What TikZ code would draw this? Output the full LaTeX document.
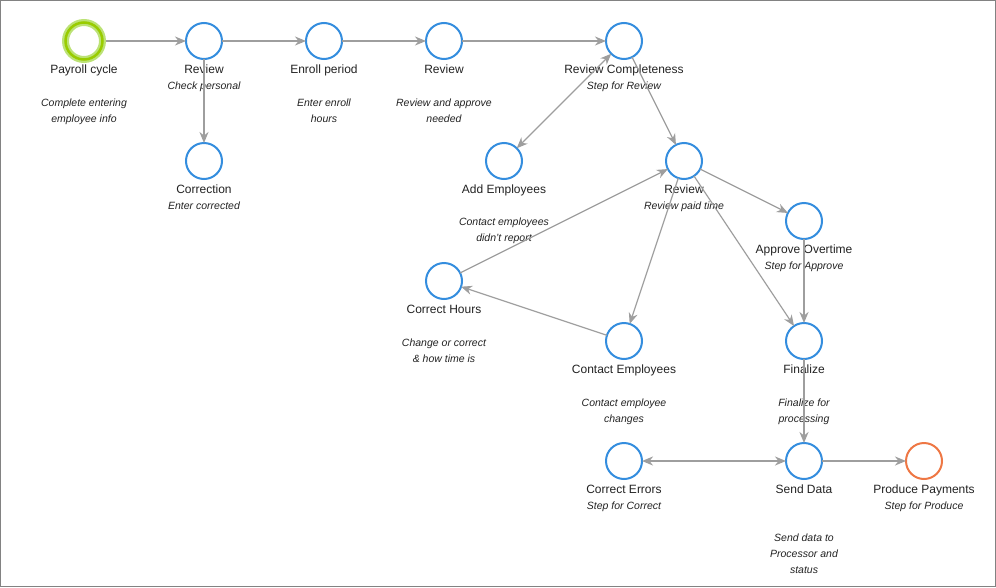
\documentclass[tikz,border=0pt]{standalone}
\usepackage{fontspec}
\setmainfont{Liberation Sans}
\usetikzlibrary{arrows.meta}
\definecolor{stepblue}{RGB}{52,141,222}
\definecolor{startgreen}{RGB}{153,204,0}
\definecolor{halogreen}{RGB}{188,226,118}
\definecolor{endorange}{RGB}{238,119,68}
\definecolor{linegray}{RGB}{158,158,158}
\definecolor{textgray}{RGB}{34,34,34}
\definecolor{framegray}{RGB}{130,130,130}
\tikzstyle{stepnode}=[circle,draw=stepblue,line width=2pt,minimum size=36pt,inner sep=0pt,outer sep=0pt]
\tikzstyle{startnode}=[stepnode,draw=startgreen,line width=2.5pt,minimum size=37pt,outer sep=3.5pt,preaction={draw=halogreen,line width=7pt}]
\tikzstyle{endnode}=[stepnode,draw=endorange]
\tikzstyle{title}=[anchor=base,inner sep=0pt,text=textgray,font=\fontsize{12}{14}\selectfont]
\tikzstyle{subtitle}=[anchor=base,inner sep=0pt,text=textgray,font=\fontsize{10.5}{16}\selectfont\itshape]
\tikzstyle{desc}=[subtitle,align=center]
\tikzstyle{flow}=[draw,linegray,line width=2pt,->]
\tikzstyle{lightflow}=[flow,line width=1.2pt]
\tikzstyle{frame}=[draw=framegray,line width=1pt]

\begin{document}
\begin{tikzpicture}[x=60pt,y=60pt,>={Stealth[length=11pt,width=9pt,inset=3.5pt]}]
    % cadre
    \coordinate (nw) at (-1.4,0.6833);
    \coordinate (se) at (15.2,-9.1);
    \useasboundingbox (nw) rectangle (se);
    \path[frame] ([xshift=0.5pt,yshift=-0.5pt]nw) rectangle ([xshift=-0.5pt,yshift=0.5pt]se);
    % etapes
    \node[startnode] (pay) at (0,0) {};
    \foreach \pos/\name in {{(2,0)/rev1}, {(4,0)/enr}, {(6,0)/rev2}, {(9,0)/revc}, {(2,-2)/corr}, {(7,-2)/adde}, {(10,-2)/rev3}, {(12,-3)/appr}, {(6,-4)/chrs}, {(9,-5)/cont}, {(12,-5)/fin}, {(9,-7)/cerr}, {(12,-7)/send}}
        \node[stepnode] (\name) at \pos {};
    \node[endnode] (prod) at (14,-7) {};
    % titres
    \foreach \name/\lbl in {pay/Payroll cycle, rev1/Review, enr/Enroll period, rev2/Review, revc/Review Completeness, corr/Correction, adde/Add Employees, rev3/Review, appr/Approve Overtime, chrs/Correct Hours, cont/Contact Employees, fin/Finalize, cerr/Correct Errors, send/Send Data, prod/Produce Payments}
        \node[title] (\name-t) at ([yshift=-32pt]\name.center) {\lbl};
    % sous-titres
    \foreach \name/\lbl in {rev1/Check personal, revc/Step for Review, corr/Enter corrected, rev3/Review paid time, appr/Step for Approve, cerr/Step for Correct, prod/Step for Produce}
        \node[subtitle] (\name-s) at ([yshift=-48pt]\name.center) {\lbl};
    % descriptions (base = derniere ligne)
    \foreach \name/\dy/\lbl in {pay/81pt/{Complete entering\\employee info}, enr/81pt/{Enter enroll\\hours}, rev2/81pt/{Review and approve\\needed}, adde/80pt/{Contact employees\\didn't report}, chrs/81pt/{Change or correct\\\& how time is}, cont/81pt/{Contact employee\\changes}, fin/81pt/{Finalize for\\processing}, send/112pt/{Send data to\\Processor and\\status}}
        \node[desc] (\name-d) at ([yshift=-\dy]\name.center) {\lbl};
    % fleches
    \foreach \source/ \dest in {pay/rev1, rev1/enr, enr/rev2, rev2/revc, rev1/corr, appr/fin, fin/send, send/prod}
        \path[flow] (\source) -- (\dest);
    \foreach \source/ \dest in {revc/rev3, rev3/appr, rev3/fin, rev3/cont, chrs/rev3, cont/chrs}
        \path[lightflow] (\source) -- (\dest);
    \path[lightflow,<->] (revc) -- (adde);
    \path[flow,<->,line width=2.5pt] (cerr) -- (send);
\end{tikzpicture}
\end{document}
